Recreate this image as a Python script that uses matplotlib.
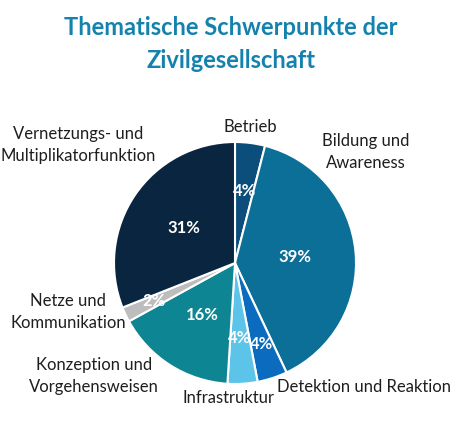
import matplotlib.pyplot as plt
import numpy as np

plt.rcParams['font.family'] = ['Lato', 'DejaVu Sans']

# slices clockwise from 12 o'clock
themes = ['Betrieb', 'Bildung und\nAwareness', 'Detektion und Reaktion', 'Infrastruktur',
          'Konzeption und\nVorgehensweisen', 'Netze und\nKommunikation',
          'Vernetzungs- und\nMultiplikatorfunktion']
shares = [4, 39, 4, 4, 16, 2, 31]
colors = ['#0b4d7b', '#0b6f98', '#0b6cbf', '#5cc4e8', '#0e8592', '#bdbdbd', '#0a2540']

# distance of the percent labels from the centre (fraction of radius)
pct_r = [0.60, 0.50, 0.70, 0.62, 0.51, 0.74, 0.51]
# where the category labels sit, in pixels (x, y from top)
label_px = [(250, 127), (366, 152), (364, 387), (229, 398),
            (94, 376), (68, 312), (78, 145)]

W, H = 462, 433
fig = plt.figure(figsize=(W / 100, H / 100), dpi=100)
cx, cy, r = 235, 263, 121
ax = fig.add_axes([(cx - r) / W, (H - cy - r) / H, 2 * r / W, 2 * r / H])

wedges, _ = ax.pie(shares, colors=colors, startangle=90, counterclock=False,
                   radius=1, wedgeprops=dict(edgecolor='white', linewidth=1.5))
ax.set_xlim(-1, 1)
ax.set_ylim(-1, 1)
ax.set_aspect('equal')
ax.axis('off')

for w, s, d in zip(wedges, shares, pct_r):
    ang = np.deg2rad((w.theta1 + w.theta2) / 2)
    ax.text(d * np.cos(ang), d * np.sin(ang), f'{s}%', color='white',
            fontsize=12, fontweight='bold', ha='center', va='center')

for txt, (x, y) in zip(themes, label_px):
    fig.text(x / W, 1 - y / H, txt, ha='center', va='center', fontsize=12,
             color='#1e1e1e', linespacing=1.45)

fig.text(231 / W, 1 - 44 / H, 'Thematische Schwerpunkte der\nZivilgesellschaft',
         ha='center', va='center', fontsize=17, fontweight='bold',
         color='#1482ad', linespacing=1.55)

fig.savefig('out.png', dpi=100)
